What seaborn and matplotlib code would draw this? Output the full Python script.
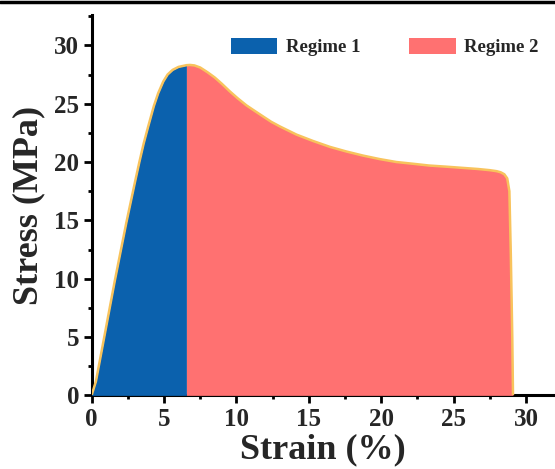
import matplotlib
matplotlib.use("Agg")
import matplotlib.pyplot as plt
from matplotlib.lines import Line2D
from matplotlib.ticker import MultipleLocator
import numpy as np
import pandas as pd
import seaborn as sns

# Tensile test: strain (%) vs stress (MPa)
strain = [0, 0.3, 0.8, 1.6, 2.4, 3.0, 3.3, 3.6, 3.9, 4.3, 4.6, 4.95, 5.25, 5.6,
          6.0, 6.55, 6.8, 7.1, 7.5, 8.0, 8.5, 9.0, 9.55, 10.1, 10.7, 11.3,
          11.85, 12.4, 13.0, 14.15, 15.3, 16.45, 17.6, 18.75, 19.9, 21.05,
          22.2, 23.3, 24.5, 25.6, 26.7, 27.5, 27.95, 28.25, 28.5, 28.7, 28.85,
          28.95, 29.05, 29.1]
stress = [0, 1.2, 4.5, 9.8, 14.8, 18.3, 20.0, 21.6, 23.0, 24.8, 25.9, 26.9, 27.5,
          27.9, 28.15, 28.3, 28.32, 28.28, 28.1, 27.7, 27.25, 26.7, 26.05, 25.45,
          24.85, 24.35, 23.9, 23.45, 23.05, 22.35, 21.8, 21.3, 20.9, 20.55, 20.25,
          20.0, 19.85, 19.7, 19.6, 19.5, 19.4, 19.3, 19.22, 19.12, 18.95, 18.6,
          17.5, 12.0, 5.0, 0]
regime_split = 6.55
regime_labels = ["Regime 1", "Regime 2"]
regime_colors = ["#0B61AD", "#FF7171"]
x_ticks = [0, 5, 10, 15, 20, 25, 30]
y_ticks = [0, 5, 10, 15, 20, 25, 30]

df = pd.DataFrame({"strain": strain, "stress": stress})

sns.set_theme(style="ticks")
plt.rcParams["font.family"] = ["Liberation Serif", "DejaVu Serif"]
plt.rcParams["font.weight"] = "bold"

fig = plt.figure(figsize=(5.55, 4.69), dpi=100)
ax = fig.add_axes([0.165, 0.157, 0.835, 0.811])

s = df["strain"].to_numpy()
t = df["stress"].to_numpy()
m1 = s <= regime_split
m2 = s >= regime_split
ax.fill_between(s[m1], 0, t[m1], color=regime_colors[0], lw=0,
                label=regime_labels[0], zorder=3)
ax.fill_between(s[m2], 0, t[m2], color=regime_colors[1], lw=0,
                label=regime_labels[1], zorder=3)
sns.lineplot(data=df, x="strain", y="stress", sort=False, color="#F8C35C",
             lw=1.8, ax=ax, zorder=4, solid_joinstyle="round")

ax.set_xlim(0, 32)
ax.set_ylim(0, 32.6)
ax.set_xticks(x_ticks)
ax.set_yticks(y_ticks)
ax.xaxis.set_minor_locator(MultipleLocator(2.5))
ax.yaxis.set_minor_locator(MultipleLocator(2.5))
ax.tick_params(which="major", direction="out", length=6, width=2,
               labelsize=18, pad=3, color="black")
ax.tick_params(which="minor", direction="out", length=3, width=2, color="black")
for lab in ax.get_xticklabels() + ax.get_yticklabels():
    lab.set_fontweight("bold")

for side in ["top", "right"]:
    ax.spines[side].set_visible(False)
for side in ["left", "bottom"]:
    ax.spines[side].set_linewidth(2.2)
    ax.spines[side].set_color("black")

ax.set_xlabel("Strain (%)", fontsize=26, fontweight="bold", labelpad=2)
ax.set_ylabel("Stress (MPa)", fontsize=26, fontweight="bold", labelpad=6)

ax.legend(loc="center left", bbox_to_anchor=(0.30, 0.916), ncol=2,
          frameon=False, handlelength=2.5, handleheight=0.95,
          handletextpad=0.45, columnspacing=2.6, borderpad=0, borderaxespad=0,
          prop={"weight": "bold", "size": 13.5})

fig.add_artist(Line2D([0, 1], [0.995, 0.995], transform=fig.transFigure,
                      color="black", lw=2.5))

fig.savefig("out.png", dpi=100)
